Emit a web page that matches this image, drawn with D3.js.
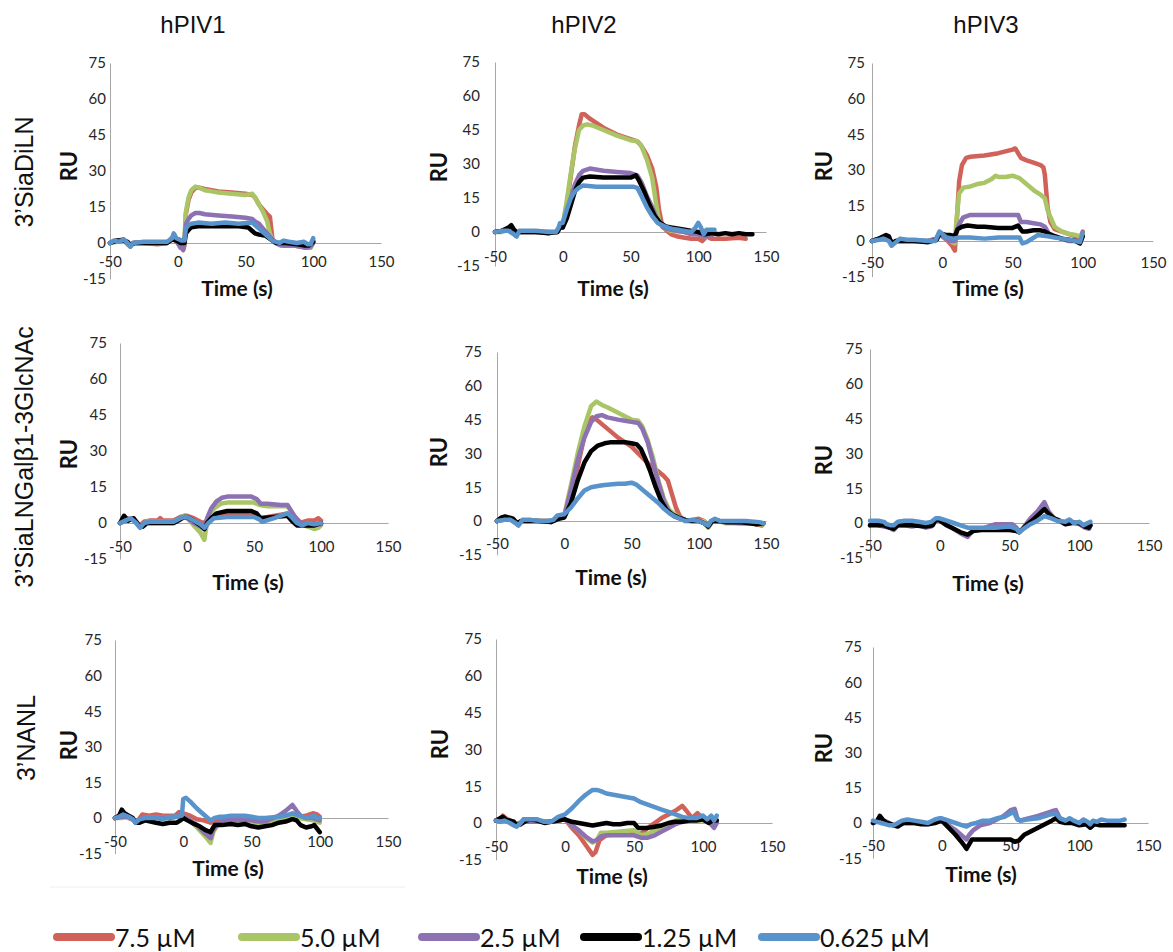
<!DOCTYPE html>
<html>
<head>
<meta charset="utf-8">
<script src="https://cdn.jsdelivr.net/npm/d3@7"></script>
<style>
  body { margin: 0; background: #fff; }
  svg { display: block; }
  .tick text { font-family: Lato, "Open Sans", sans-serif; font-size: 15px; fill: #262626; }
  .axis path { stroke: #a6a6a6; }
</style>
</head>
<body>
<svg class="one"></svg>
<script>
// ---- data ----
var viruses = ['hPIV1', 'hPIV2', 'hPIV3'];
var glycans = ['3\u2019SiaDiLN', '3\u2019SiaLNGal\u03b21-3GlcNAc', '3\u2019NANL'];
var concentrations = ['7.5 \u00b5M', '5.0 \u00b5M', '2.5 \u00b5M', '1.25 \u00b5M', '0.625 \u00b5M'];
var xTicks = [-50, 0, 50, 100, 150];
var yTicks = [-15, 0, 15, 30, 45, 60, 75];

// each panel: [7.5, 5.0, 2.5, 1.25, 0.625] series as [time, RU] pairs (null = not shown)
var siaDiLN_hPIV1 = [
  [[-50,0],[-47,1],[-44,0.5],[-40,1.5],[-37,0],[-35,-1.5],[-33,0],[-25,0],[-15,-0.5],[-8,0],[-4,2],[-2,1],[0,0],[3,-2],[4,-3],[5,-1],[6,12],[8,18],[10,21],[13,23],[16,23],[20,22.5],[25,22],[30,21.5],[40,21],[50,20.5],[55,20],[57,19],[60,16],[63,14],[66,12],[68,11],[69,6],[70,1],[73,0],[78,-1],[85,-1],[90,-1.5],[95,-2],[98,-2],[100,1]],
  [[-50,0],[-45,0.5],[-40,1],[-36,-1],[-33,0],[-20,0],[-8,0],[-4,2.5],[-1,1],[2,-1],[4,-1],[5,2],[6,13],[8,19],[10,22],[13,23.5],[16,23],[20,22],[25,21.5],[30,21],[40,20.5],[50,20],[55,20.5],[57,19],[60,16],[63,13],[66,9],[68,4],[70,1],[73,0],[80,-0.5],[90,-1],[95,-1.5],[98,-2],[100,0]],
  [[-50,0],[-45,1],[-40,1.5],[-36,-1],[-33,0],[-20,0],[-8,0],[-4,2],[-1,1],[2,-2],[4,-2.5],[5,1],[6,8],[8,10],[10,11.5],[13,12.5],[16,12.5],[20,12],[30,11.5],[40,11],[50,10.5],[55,10],[57,9],[60,8],[63,6],[66,4],[69,2],[72,0],[76,-1],[85,-1],[90,-1.5],[95,-2],[98,-1.5],[100,0]],
  [[-50,0],[-45,1],[-40,1],[-37,0.5],[-35,-1],[-32,0],[-20,0],[-8,0],[-4,1.5],[-1,1],[2,0],[5,0],[6,4],[8,5.5],[10,6.5],[15,7],[30,7],[45,7],[52,6.5],[55,5],[57,4],[60,3.5],[65,3],[70,1],[73,0],[80,0],[88,-0.5],[93,-1],[97,-1],[100,0.5]],
  [[-50,0],[-47,1],[-43,0.5],[-40,1.5],[-37,0],[-35,-1.5],[-33,0],[-25,0.5],[-15,0.5],[-8,0.5],[-4,2],[-3,4],[-1,2],[1,1.5],[3,1],[5,1],[6,6],[8,7.5],[10,8],[15,8.5],[25,8],[35,8.5],[45,8],[55,8.5],[57,7.5],[60,6],[63,4.5],[66,3],[70,1],[75,0],[78,1],[82,0.5],[88,0],[93,0.5],[96,-0.5],[98,-0.5],[100,2]]
];

var siaDiLN_hPIV2 = [
  [[-50,0],[-45,0.5],[-40,1],[-37,1],[-35,-1.5],[-32,0],[-20,0],[-10,-0.5],[-4,0],[-2,2],[0,3],[3,12],[6,25],[9,38],[12,47],[14,52],[16,52],[20,50],[25,48],[30,46],[40,43],[50,41],[55,40],[58,38],[62,34],[66,28],[69,20],[71,10],[73,4],[76,1],[80,-1],[85,-2],[90,-2.5],[95,-3],[100,-3],[103,-4],[106,-2],[110,-3],[120,-3],[130,-2.5],[135,-3]],
  [[-50,0],[-45,0],[-40,1],[-35,-1],[-32,0],[-20,0],[-10,0],[-4,0],[-2,2],[0,3],[3,14],[6,26],[9,37],[12,45],[15,47],[18,47.5],[22,47],[30,45],[40,42.5],[50,40.5],[55,40],[58,38],[62,32],[66,24],[69,12],[71,5],[74,2],[80,0.5],[90,0],[95,-0.5],[100,-1],[105,-2],[110,-1]],
  [[-50,0],[-45,0.5],[-40,1],[-35,-1],[-32,0],[-20,0],[-10,0],[-4,0],[-2,2],[0,2],[3,8],[6,15],[9,21],[12,25],[15,27],[20,28],[30,27],[40,26.5],[50,26],[55,25],[58,22],[62,16],[66,11],[70,5],[74,2],[80,1],[90,0],[95,-1],[100,-1],[105,-2],[110,-1.5]],
  [[-50,0],[-45,0.5],[-40,2],[-38,3],[-36,1],[-34,0],[-20,0],[-10,-0.5],[-4,0],[-2,2],[0,2],[3,6],[6,12],[9,18],[12,22],[15,24],[20,24.5],[30,24],[40,24],[50,24],[54,25],[56,23],[60,18],[64,12],[68,7],[72,4],[76,2.5],[80,2],[90,1],[95,0.5],[100,0],[105,-1],[110,-0.5],[115,-1],[120,-0.5],[125,-1],[130,-0.5],[135,-1],[140,-1]],
  [[-50,0],[-45,0.5],[-40,0.5],[-36,-1],[-34,-2],[-32,0.5],[-20,0.5],[-10,0],[-5,0],[-3,2],[-2,4],[0,4],[3,10],[6,15],[9,18],[12,19.5],[15,20.5],[25,20],[35,20],[45,20],[52,20],[55,19.5],[58,16],[62,11],[66,7],[70,4],[75,2.5],[80,1.5],[85,1],[90,0.5],[95,0],[98,2],[100,4],[102,2],[104,-1],[106,1],[110,1],[112,1]]
];

var siaDiLN_hPIV3 = [
  [[-50,0],[-45,1],[-40,2],[-38,1],[-35,-1],[-33,0],[-20,0],[-10,0],[-4,1],[-2,3],[0,2],[4,0],[7,-2],[9,-4],[10,5],[12,25],[14,32],[17,35],[20,35.5],[30,36],[40,37],[50,38.5],[52,39],[54,37],[56,35],[60,34],[65,33],[70,32],[72,31],[73,28],[75,14],[77,8],[80,5],[85,4],[90,3],[95,2],[98,1],[100,4]],
  [[-50,0],[-45,1],[-40,1.5],[-35,-1],[-33,0],[-20,0],[-10,0],[-4,1],[-2,3],[0,2],[5,0],[9,-1],[10,8],[12,20],[15,22.5],[20,23],[25,24],[30,24.5],[35,26],[38,27.5],[40,27],[45,27],[50,27.5],[55,26.5],[58,25],[62,23],[66,21],[70,19.5],[73,18],[75,13],[77,10],[80,6],[85,4],[90,3],[95,2.5],[98,2],[100,3]],
  [[-50,0],[-45,1],[-40,2],[-35,-1],[-33,0],[-20,0],[-10,0],[-4,1],[-2,3],[0,2],[5,0],[9,0],[10,4],[12,7],[15,10],[20,11],[30,11],[40,11],[50,11],[54,11],[56,8],[60,8],[65,7.5],[70,7],[73,6],[76,3],[80,2],[85,1],[90,0],[95,0],[98,-1],[100,2]],
  [[-50,0],[-45,1],[-40,2.5],[-38,2],[-36,-1],[-33,0],[-20,0],[-10,-0.5],[-4,0.5],[-2,3],[0,3],[3,2.5],[6,2.5],[9,2],[11,5],[14,6],[18,6.5],[25,6],[30,6],[40,5.5],[50,5.5],[54,6.5],[57,4],[60,4],[65,4.5],[70,4.5],[73,4],[76,3],[80,2],[85,1],[90,0.5],[95,0],[98,-1],[100,2]],
  [[-50,0],[-45,0.5],[-42,1],[-38,0],[-36,-2],[-34,-1],[-30,1],[-25,0.5],[-20,0.5],[-10,0],[-5,0],[-2,4],[0,3],[3,1.5],[8,1],[12,1.5],[20,1.5],[30,1],[40,1.5],[50,1.5],[55,1.5],[57,-1],[60,-0.5],[64,1],[68,2.5],[75,2],[80,1.5],[85,1],[90,0.5],[95,0],[98,-0.5],[100,3.5]]
];

var galNAc_hPIV1 = [
  [[-50,0],[-47,1],[-45,2],[-42,1.5],[-40,2],[-37,0],[-35,-1],[-32,0.5],[-28,1],[-22,1],[-20,2],[-18,1],[-10,1],[-5,2.5],[-2,3],[0,3],[5,2],[10,0.5],[12,0],[15,1],[20,3],[30,3.5],[40,3.5],[50,3],[54,2],[60,2.5],[70,3.5],[75,4],[80,1],[84,0],[90,1],[95,1],[98,2],[100,1]],
  [[-50,0],[-45,1],[-40,1.5],[-36,-1],[-33,-1],[-30,0.5],[-20,0.5],[-10,0.5],[-5,2],[-2,3],[0,2.5],[5,-1],[10,-4],[13,-7],[14,-3],[16,2],[20,6],[25,8],[30,8.5],[40,8.5],[50,8.5],[54,7.5],[60,7],[70,7],[75,7],[80,3],[84,-0.5],[90,-1.5],[95,-2.5],[98,-2],[100,-1]],
  [[-50,0],[-45,1],[-40,2],[-36,-1],[-33,-1.5],[-30,0],[-20,0],[-10,0],[-5,2],[-2,2.5],[0,2],[5,0],[10,-1.5],[13,-2.5],[15,2],[18,6],[22,9],[26,10.5],[30,11],[40,11],[48,11],[52,10],[55,8],[60,8],[70,7.5],[75,7.5],[80,3],[85,0],[90,-1],[95,-1],[100,-0.5]],
  [[-50,0],[-47,3],[-44,1],[-40,2],[-36,-1],[-33,-1.5],[-30,0],[-20,0],[-10,0],[-5,1.5],[-2,2.5],[0,2.5],[5,1],[10,-1],[13,-2.5],[15,0],[18,2],[22,4],[30,5],[40,5],[48,5],[52,4],[55,2],[65,2.5],[75,3],[78,1],[82,-1],[90,-1],[95,-1],[100,0]],
  [[-50,0],[-46,1],[-42,2],[-38,0],[-35,-2],[-32,0],[-28,0.5],[-20,0.5],[-10,0.5],[-5,2],[-2,2.5],[0,2.5],[5,1],[10,-0.5],[13,-2],[16,0],[20,2],[30,2.5],[40,2.5],[50,2.5],[54,1.5],[56,0.5],[65,2],[75,4],[78,2.5],[82,0],[86,-1],[90,0],[95,-0.5],[100,0]]
];

var galNAc_hPIV2 = [
  [[-50,0],[-47,1],[-44,1],[-40,1.5],[-37,0],[-35,-1.5],[-32,0],[-25,0],[-15,0],[-8,0],[-4,2],[0,2.5],[5,12],[10,24],[15,38],[18,44],[21,46],[24,45],[28,43],[32,41],[36,39],[40,37],[45,35],[50,33],[55,30],[60,27],[65,24],[70,22],[74,20],[77,18],[80,12],[83,6],[86,2],[90,0],[95,0.5],[100,1],[104,0],[107,-2],[110,0],[115,0],[120,-0.5],[130,-1],[140,-1],[147,-2]],
  [[-50,0],[-45,0.5],[-40,1],[-35,-1.5],[-32,0],[-20,0],[-10,0],[-4,1.5],[0,2.5],[5,16],[10,30],[15,42],[20,51],[24,53],[28,51.5],[32,50.5],[40,48],[45,46.5],[50,45],[55,44.5],[58,42],[62,36],[66,28],[70,18],[74,10],[78,5],[82,3],[87,1],[92,0],[100,0],[104,0],[107,-3],[110,-0.5],[115,0],[120,-1],[135,-1],[148,-1.5]],
  [[-50,0],[-45,0.5],[-40,1],[-35,-1],[-32,0],[-20,0],[-10,0],[-4,1.5],[0,2],[5,14],[10,27],[15,37],[20,44],[24,46.5],[28,47],[32,46],[40,45],[45,44.5],[50,44],[55,43.5],[58,41],[62,35],[66,26],[70,17],[74,9],[78,4],[82,2],[87,1],[92,0],[100,0],[107,-1.5],[110,0],[120,-0.5],[135,-1],[148,-1]],
  [[-50,0],[-47,1.5],[-44,2],[-41,1.5],[-38,1],[-35,-1],[-32,0],[-20,0],[-10,-0.5],[-4,1],[0,1.5],[5,8],[10,18],[15,26],[20,31],[25,33.5],[30,34.5],[35,35],[40,35],[45,35],[50,34.5],[54,34],[57,32],[60,28],[64,22],[68,15],[72,9],[76,5],[80,3],[85,1.5],[90,0.5],[95,0],[100,0],[104,-1],[107,-2.5],[110,0],[115,0],[120,-0.5],[130,-0.5],[138,-1],[143,-1.5],[148,-1]],
  [[-50,0],[-45,0.5],[-40,0.5],[-36,-1],[-34,-2],[-31,0.5],[-25,0.5],[-20,0],[-12,0],[-8,0.5],[-5,2.5],[0,3],[5,6],[10,10],[15,13.5],[20,15],[25,15.5],[30,16],[40,16.5],[45,16.5],[50,17],[54,16],[58,14],[62,12],[66,10],[70,8],[74,5.5],[78,3.5],[82,2],[86,1],[90,0],[95,0.5],[100,0],[104,-1],[107,-2],[109,0],[112,1],[116,0],[125,0],[135,0],[145,-0.5],[148,-1]]
];

var galNAc_hPIV3 = [
  null,
  null,
  [[-50,-1],[-47,0],[-44,-1],[-40,-1.5],[-36,-2],[-33,-3],[-30,-1],[-25,-1],[-20,-1.5],[-15,-1],[-10,-2],[-6,-1.5],[-3,1],[0,1.5],[5,-1],[10,-2.5],[15,-4.5],[20,-6],[24,-3],[30,-2.5],[35,-1.5],[40,-0.5],[45,-0.5],[52,-0.5],[55,-2],[57,-4],[60,-2],[65,2],[70,5],[75,9],[78,5],[82,2],[85,1],[90,-0.5],[95,0.5],[100,-0.5],[104,-2],[107,-2.5],[108,-1]],
  [[-50,-1],[-45,-1],[-40,-1],[-36,-2],[-33,-2.5],[-30,-1],[-20,-1],[-10,-1.5],[-5,-1],[-3,1.5],[0,1],[5,-1],[10,-2.5],[15,-4],[20,-5],[24,-3.5],[30,-3],[40,-3],[50,-3],[55,-3.5],[57,-4],[62,-1],[68,2],[75,6],[78,4],[82,2],[86,1],[90,-0.5],[95,0],[100,0],[104,-1.5],[107,-2],[108,-1]],
  [[-50,1],[-47,1],[-44,1],[-40,0.5],[-38,-0.5],[-35,-1],[-33,-1],[-30,0.5],[-25,1],[-20,1],[-15,0.5],[-10,0],[-6,0.5],[-3,2],[0,2],[5,1],[10,0],[15,-1],[20,-2],[30,-2],[40,-2],[50,-1.5],[55,-2.5],[57,-4],[60,-2.5],[65,-0.5],[70,1],[75,3],[80,2],[84,1],[90,0.5],[93,1.5],[96,0],[100,0.5],[103,-1],[106,0],[108,0.5]]
];

var nanl_hPIV1 = [
  [[-50,0],[-47,1],[-44,1],[-40,0],[-36,-1],[-33,-1],[-30,1.5],[-25,1],[-20,1.5],[-15,1],[-10,1],[-6,1],[-3,2.5],[0,2],[5,1],[10,-0.5],[15,-1],[20,-2],[25,-1],[30,0],[40,0],[50,0],[55,-0.5],[60,-1],[70,0],[80,1],[85,0.5],[90,1],[95,2],[98,1.5],[100,0.5]],
  [[-50,0],[-45,0],[-40,0.5],[-35,-1],[-32,-1],[-28,0],[-20,0],[-10,0],[-5,0.5],[0,1],[5,-1],[10,-4],[15,-7],[20,-10.5],[22,-6],[25,-3],[30,-2],[40,-2],[50,-2],[55,-2],[60,-2],[70,-1],[80,0],[85,0],[90,-0.5],[95,-1],[100,-2]],
  [[-50,0],[-45,0.5],[-40,0.5],[-35,-1],[-32,-1],[-28,0],[-20,0],[-10,0],[-5,0.5],[0,1],[5,-1],[10,-3],[15,-6],[20,-8.5],[22,-5],[25,-2.5],[30,-1],[40,-1],[50,-1],[55,-1.5],[60,-1.5],[70,1],[75,3],[80,5.5],[83,3],[86,1],[90,0],[95,0],[100,-1]],
  [[-50,0],[-47,1],[-45,3.5],[-43,2],[-40,1],[-37,0],[-35,-2],[-32,-2],[-28,-1],[-24,-1.5],[-20,-2],[-15,-2.5],[-10,-2],[-5,-2],[-2,-1],[0,0],[3,-1],[8,-2.5],[12,-3.5],[16,-5],[20,-6],[23,-3],[28,-3],[35,-2.5],[40,-3],[45,-2.5],[50,-3.5],[55,-4],[60,-3.5],[65,-3],[70,-2],[75,-1.5],[80,-0.5],[83,-1],[86,-3],[90,-4],[94,-3.5],[96,-3],[98,-4.5],[100,-6]],
  [[-50,0],[-47,0.5],[-44,1.5],[-40,0.5],[-37,-0.5],[-35,-2],[-32,-0.5],[-28,0],[-20,0],[-15,-0.5],[-10,0.5],[-5,0.5],[-1,1],[0,8],[2,8.5],[5,7],[10,4],[15,1.5],[20,-1],[23,0],[27,0.5],[30,0.5],[35,1],[40,1],[45,1],[50,0.5],[55,0],[60,0],[70,0.5],[75,1],[80,2],[85,1],[90,0],[93,0.5],[96,1],[98,0],[100,0]]
];

var nanl_hPIV2 = [
  [[-50,1],[-47,1],[-45,3],[-43,2],[-40,1],[-37,0],[-35,-1],[-32,0],[-30,1.5],[-25,1],[-20,1],[-15,0.5],[-10,0.5],[-5,1],[0,1.5],[5,-2],[10,-5],[15,-9],[20,-13],[22,-12],[25,-7],[30,-5],[40,-4.5],[50,-4],[55,-4.5],[60,-2],[65,0],[70,2],[75,3.5],[80,5],[85,7],[88,5],[92,2],[96,4],[100,2],[103,1],[106,2.5],[108,0],[110,1]],
  [[-50,1],[-45,1.5],[-40,1],[-35,-0.5],[-30,1],[-20,1],[-10,0.5],[-5,1],[0,1.5],[5,-1],[10,-3],[15,-6],[20,-8],[23,-7],[26,-4],[30,-4],[40,-3.5],[50,-3],[55,-5],[60,-4.5],[65,-3],[70,-1.5],[75,0],[80,1],[85,2],[90,1.5],[95,1],[100,1],[105,0.5],[110,1]],
  [[-50,1],[-45,1.5],[-40,1],[-35,-0.5],[-30,0.5],[-20,0.5],[-10,0.5],[-5,1],[0,1.5],[5,-1],[10,-3],[15,-5.5],[20,-7.5],[23,-7],[26,-5.5],[30,-5],[40,-5],[50,-5],[55,-6],[60,-6],[65,-5],[70,-3.5],[75,-2],[80,-0.5],[85,0.5],[90,1],[95,1.5],[100,1.5],[105,0],[108,-2],[110,0]],
  [[-50,1],[-47,2],[-45,2.5],[-42,1],[-40,1],[-37,0.5],[-35,-1],[-32,-0.5],[-28,1],[-25,1.5],[-20,1],[-15,0],[-10,0.5],[-5,1],[0,1.5],[5,0.5],[10,0],[15,-0.5],[20,-1],[25,-0.5],[30,0],[35,-0.5],[40,-0.5],[45,0],[50,0],[53,-2],[57,-2],[60,-2],[65,-1.5],[70,-1],[75,0],[80,0.5],[85,0.5],[90,1],[95,1],[100,1.5],[104,0],[107,1],[110,1]],
  [[-50,1],[-47,0.5],[-44,1],[-40,0],[-37,-1],[-35,-1.5],[-32,0],[-30,1.5],[-25,1.5],[-20,1.5],[-15,0.5],[-10,0.5],[-5,2.5],[0,3.5],[5,6],[10,9],[15,11.5],[20,13.5],[23,13.5],[26,13],[30,12],[35,11.5],[40,11],[45,10.5],[50,10],[55,8.5],[60,7.5],[65,6.5],[70,5.5],[75,4.5],[80,3.5],[85,2.5],[90,2],[95,2],[100,3],[103,1.5],[106,3],[108,1],[110,3]]
];

var nanl_hPIV3 = [
  null,
  null,
  [[-50,0],[-45,1],[-40,0.5],[-35,-1],[-30,0],[-20,0],[-10,-0.5],[-5,0.5],[0,1.5],[5,-1],[10,-3],[15,-5.5],[18,-7],[20,-5],[23,-3],[28,-1],[35,0],[40,1.5],[45,3],[50,5.5],[53,6],[55,2],[57,1],[60,1.5],[70,3],[80,5],[83,5.5],[86,2],[90,1],[95,0.5],[100,0]],
  [[-50,0],[-47,1],[-45,3],[-43,1.5],[-40,0],[-37,-0.5],[-35,-1],[-32,-1.5],[-28,0],[-20,0],[-15,-0.5],[-10,-0.5],[-5,0],[0,1],[5,-2],[10,-5],[15,-8.5],[18,-11],[20,-9],[22,-7],[30,-7],[40,-7],[50,-7],[53,-8],[56,-7.5],[60,-5],[65,-3.5],[70,-2],[75,-0.5],[80,1],[83,2],[86,0.5],[90,0],[95,0],[100,-1],[105,-0.5],[108,-2],[111,-0.5],[115,-1],[120,-1],[125,-1],[133,-1]],
  [[-50,1],[-47,0.5],[-44,0],[-41,-0.5],[-38,-1],[-35,-1],[-32,0],[-29,1],[-25,1.5],[-20,1],[-15,0.5],[-10,0],[-5,1.5],[-2,2],[0,2],[5,1],[10,0],[15,-1],[18,-1.5],[21,-0.5],[25,0],[30,1],[35,1],[40,2],[45,2.5],[50,4],[52,5],[55,1.5],[58,1],[62,1.5],[70,2],[78,3.5],[83,4],[86,2],[90,1],[93,2],[96,1],[100,0],[103,1.5],[106,0.5],[108,-0.5],[110,1],[113,0.5],[116,1.5],[120,1],[125,1],[130,1],[133,1.5]]
];

var panelData = [siaDiLN_hPIV1, siaDiLN_hPIV2, siaDiLN_hPIV3,
                 galNAc_hPIV1, galNAc_hPIV2, galNAc_hPIV3,
                 nanl_hPIV1, nanl_hPIV2, nanl_hPIV3];

// ---- styles / layout ----
var colors = ['#d0625a', '#a9c566', '#8c72b2', '#000000', '#5893cc'];

var svgwidth = 1173;
var svgheight = 952;

// pixel frame of each panel (axis ends, label spots, y label gap, x label offset)
var frames = [
  {x0:110, x1:381,  y75:63,  y0:243, ru:[77,166],  time:[237,296], yl:4,  xl:19},
  {x0:495, x1:766,  y75:62,  y0:232, ru:[447,167], time:[613,296], yl:15, xl:25},
  {x0:872, x1:1153, y75:63,  y0:241, ru:[832,166], time:[988,296], yl:7,  xl:22},
  {x0:120, x1:388,  y75:343, y0:523, ru:[77,454],  time:[248,590], yl:13, xl:24},
  {x0:497, x1:766,  y75:352, y0:521, ru:[447,452], time:[611,585], yl:15, xl:23},
  {x0:870, x1:1149, y75:349, y0:523, ru:[832,460], time:[988,591], yl:7,  xl:23},
  {x0:115, x1:388,  y75:640, y0:818, ru:[77,745],  time:[228,876], yl:13, xl:24},
  {x0:496, x1:772,  y75:639, y0:823, ru:[448,744], time:[612,884], yl:14, xl:24},
  {x0:873, x1:1148, y75:647, y0:823, ru:[832,748], time:[981,882], yl:11, xl:23}
];

var svg = d3.select('.one')
            .attr('width', svgwidth)
            .attr('height', svgheight);

// column titles
var titleX = [193, 584, 986];
svg.selectAll('.coltitle').data(viruses).enter()
   .append('text')
   .attr('x', function(d,i){ return titleX[i]; })
   .attr('y', 33)
   .attr('text-anchor', 'middle')
   .style('font-family', '"Liberation Sans", Arial, sans-serif')
   .style('font-size', '24px')
   .style('fill', '#111')
   .text(function(d){ return d; });

// row titles
var rowPos = [[33,172], [33,457], [35,738]];
svg.selectAll('.rowtitle').data(glycans).enter()
   .append('text')
   .attr('transform', function(d,i){ return 'translate('+rowPos[i][0]+','+rowPos[i][1]+') rotate(-90)'; })
   .attr('text-anchor', 'middle')
   .style('font-family', '"Liberation Sans", Arial, sans-serif')
   .style('font-size', '25px')
   .style('fill', '#111')
   .text(function(d){ return d; });

// plain hyphen minus, as in the original
var plainFormat = function(d){ return String(d); };

var drawPanel = function(series, f){

  var yBottom = f.y0 + (f.y0 - f.y75) / 5;

  var xScale = d3.scaleLinear()
                 .domain([-50, 150])
                 .range([f.x0, f.x1]);

  var yScale = d3.scaleLinear()
                 .domain([-15, 75])
                 .range([yBottom, f.y75]);

  var yAxis = d3.axisLeft(yScale).tickValues(yTicks).tickFormat(plainFormat)
                .tickSize(0).tickPadding(f.yl);
  svg.append('g').classed('axis', true)
     .attr('transform', 'translate('+f.x0+',0)')
     .call(yAxis);

  var xAxis = d3.axisBottom(xScale).tickValues(xTicks).tickFormat(plainFormat).tickSize(0);
  var gx = svg.append('g').classed('axis', true)
     .attr('transform', 'translate(0,'+f.y0+')')
     .call(xAxis);
  gx.selectAll('text').attr('y', f.xl).attr('dy', '0.35em');

  var linemake = d3.line()
                   .x(function(d){ return xScale(d[0]); })
                   .y(function(d){ return yScale(d[1]); });

  series.forEach(function(s, i){
    if (!s) return;
    svg.append('path')
       .datum(s)
       .attr('d', linemake)
       .attr('fill', 'none')
       .attr('stroke', colors[i])
       .attr('stroke-width', 4.5)
       .attr('stroke-linejoin', 'round')
       .attr('stroke-linecap', 'round');
  });

  svg.append('text')
     .attr('transform', 'translate('+f.ru[0]+','+f.ru[1]+') rotate(-90)')
     .attr('text-anchor', 'middle')
     .style('font-family', 'Lato, "Open Sans", sans-serif')
     .style('font-weight', 'bold')
     .style('font-size', '22px')
     .style('fill', '#111')
     .text('RU');

  svg.append('text')
     .attr('x', f.time[0])
     .attr('y', f.time[1])
     .attr('text-anchor', 'middle')
     .style('font-family', 'Lato, "Open Sans", sans-serif')
     .style('font-weight', 'bold')
     .style('font-size', '21px')
     .style('fill', '#111')
     .text('Time (s)');
};

panelData.forEach(function(series, i){
  drawPanel(series, frames[i]);
});

// faint frame edge under the bottom-left panel
svg.append('line')
   .attr('x1', 50).attr('x2', 405)
   .attr('y1', 887).attr('y2', 887)
   .attr('stroke', '#eeeeee');

// legend
var legendX = [53, 238, 418, 580, 758];
var legend = svg.selectAll('.legend').data(concentrations).enter()
                .append('g')
                .attr('transform', function(d,i){ return 'translate('+legendX[i]+',937)'; });

legend.append('line')
      .attr('x1', 4).attr('x2', 58)
      .attr('y1', 0).attr('y2', 0)
      .attr('stroke', function(d,i){ return colors[i]; })
      .attr('stroke-width', 8)
      .attr('stroke-linecap', 'round');

legend.append('text')
      .attr('x', 62)
      .attr('y', 10)
      .style('font-family', 'Lato, "Open Sans", sans-serif')
      .style('font-size', '25px')
      .style('fill', '#111')
      .text(function(d){ return d; });
</script>
</body>
</html>
